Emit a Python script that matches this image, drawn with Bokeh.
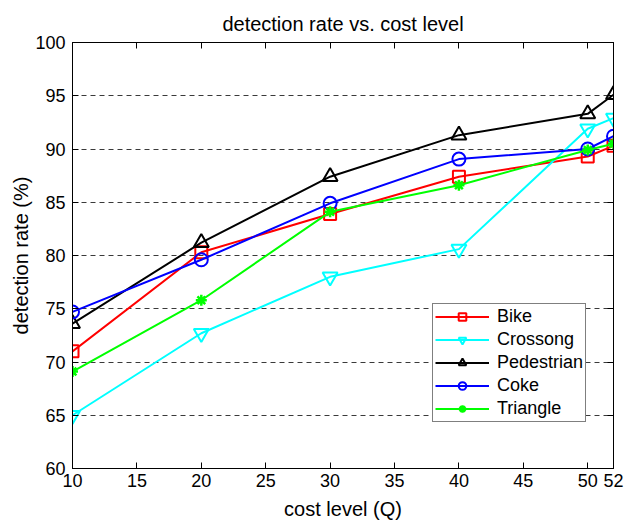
from bokeh.plotting import figure
from bokeh.models import Range1d, LinearAxis, FixedTicker, Legend, LegendItem
from bokeh.embed import file_html
from bokeh.resources import INLINE

cost_q = [10, 20, 30, 40, 50, 52]
bike = [71.0, 80.3, 83.9, 87.4, 89.3, 90.3]
crossong = [65.0, 72.7, 78.0, 80.6, 91.9, 92.9]
pedestrian = [73.6, 81.2, 87.4, 91.3, 93.3, 95.1]
coke = [74.7, 79.6, 84.9, 89.05, 90.0, 91.2]
triangle = [69.1, 75.8, 84.1, 86.6, 89.9, 90.5]

x_ticks = [10, 15, 20, 25, 30, 35, 40, 45, 50, 52]
y_ticks = [60, 65, 70, 75, 80, 85, 90, 95, 100]

FONT = "Liberation Sans"

p = figure(width=635, height=522, output_backend="svg", toolbar_location=None,
           x_range=Range1d(10, 52), y_range=Range1d(60, 100),
           min_border_left=72, min_border_right=22, min_border_top=42, min_border_bottom=54)

p.title.text = "detection rate vs. cost level"
p.title.align = "center"
p.title.text_font = FONT
p.title.text_font_size = "20px"
p.title.text_font_style = "normal"
p.title.text_color = "black"
p.title.standoff = 16

p.outline_line_color = "black"
p.outline_line_width = 1
p.background_fill_color = "white"
p.border_fill_color = "white"

for ax in (p.xaxis[0], p.yaxis[0]):
    ax.major_tick_in = 6
    ax.major_tick_out = 0
    ax.minor_tick_line_color = None
    ax.axis_line_color = "black"
    ax.major_tick_line_color = "black"
    ax.major_label_text_font = FONT
    ax.major_label_text_font_size = "18px"
    ax.major_label_text_color = "black"
    ax.axis_label_text_font = FONT
    ax.axis_label_text_font_size = "20px"
    ax.axis_label_text_font_style = "normal"
    ax.axis_label_text_color = "black"

p.xaxis.ticker = FixedTicker(ticks=x_ticks)
p.yaxis.ticker = FixedTicker(ticks=y_ticks)
p.xaxis.axis_label = "cost level (Q)"
p.yaxis.axis_label = "detection rate (%)"
p.xaxis.major_label_standoff = 5
p.yaxis.major_label_standoff = 7
p.xaxis.axis_label_standoff = 8
p.yaxis.axis_label_standoff = 0

top = LinearAxis(ticker=FixedTicker(ticks=x_ticks), major_tick_in=6, major_tick_out=0,
                 minor_tick_line_color=None, major_label_text_font_size="1px",
                 major_label_text_color=None, major_label_standoff=0, axis_line_color="black")
right = LinearAxis(ticker=FixedTicker(ticks=y_ticks), major_tick_in=6, major_tick_out=0,
                   minor_tick_line_color=None, major_label_text_font_size="1px",
                   major_label_text_color=None, major_label_standoff=0, axis_line_color="black")
p.add_layout(top, "above")
p.add_layout(right, "right")

p.xgrid.grid_line_color = None
p.ygrid.ticker = FixedTicker(ticks=y_ticks)
p.ygrid.grid_line_color = "#3a3a3a"
p.ygrid.grid_line_dash = "5 4"
p.ygrid.grid_line_width = 1

series = [
    ("Bike", bike, "#ff0000", "square", 12),
    ("Crossong", crossong, "#00ffff", "inverted_triangle", 15),
    ("Pedestrian", pedestrian, "#000000", "triangle", 15),
    ("Coke", coke, "#0000ff", "circle", 13),
    ("Triangle", triangle, "#00ff00", "asterisk", 11),
]

items = []
for name, vals, color, marker, size in series:
    r1 = p.line(cost_q, vals, line_color=color, line_width=2)
    lw = 2.5 if marker == "asterisk" else 2
    r2 = p.scatter(cost_q, vals, marker=marker, size=size, line_color=color,
                   fill_color=None, line_width=lw)
    items.append(LegendItem(label=name, renderers=[r1, r2]))

legend = Legend(items=items, location=(360, 46))
legend.label_text_font = FONT
legend.label_text_font_size = "18px"
legend.label_text_color = "black"
legend.glyph_width = 54
legend.glyph_height = 19
legend.label_height = 19
legend.spacing = 2
legend.padding = 2
legend.margin = 0
legend.label_standoff = 8
legend.border_line_color = "black"
legend.border_line_width = 1.5
legend.background_fill_color = "white"
legend.background_fill_alpha = 1
p.add_layout(legend, "center")

open("out.html", "w").write(file_html(p, INLINE))
